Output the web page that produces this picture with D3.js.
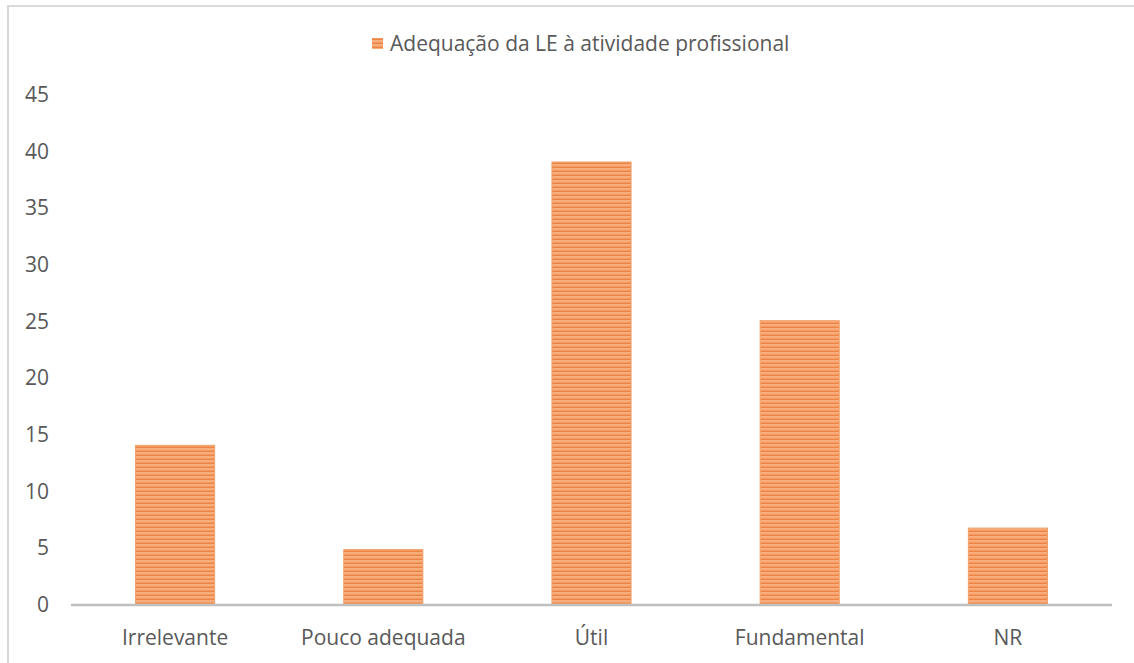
<!DOCTYPE html>
<html>
<head>
<meta charset="utf-8">
<style>
  body { margin: 0; background: #fff; }
  text { font-family: "Open Sans", sans-serif; fill: #595959; }
</style>
</head>
<body>
<svg width="1134" height="663"></svg>
<script src="https://d3js.org/d3.v7.min.js"></script>
<script>

var categories = ["Irrelevante", "Pouco adequada", "Útil", "Fundamental", "NR"];
var values = [14, 4.8, 39, 25, 6.7];
var yTicks = [0, 5, 10, 15, 20, 25, 30, 35, 40, 45];
var seriesName = "Adequação da LE à atividade profissional";

var svg = d3.select("svg");

var margin = {left: 71, right: 1112, top: 94, bottom: 604};

// chart border (runs off the right and bottom edges)
svg.append("rect")
    .attr("x", 8).attr("y", 6)
    .attr("width", 1140).attr("height", 680)
    .attr("fill", "none")
    .attr("stroke", "#d9d9d9")
    .attr("stroke-width", 2);

// striped fill like the original
var defs = svg.append("defs");
var pat = defs.append("pattern")
    .attr("id", "stripes")
    .attr("patternUnits", "userSpaceOnUse")
    .attr("width", 8).attr("height", 4);
pat.append("rect").attr("width", 8).attr("height", 4).attr("fill", "#f7ae7c");
pat.append("rect").attr("y", 2.5).attr("width", 8).attr("height", 1.5).attr("fill", "#ed8344");

var x = d3.scaleBand()
    .domain(categories)
    .range([margin.left, margin.right])
    .paddingInner(0.62)
    .paddingOuter(0.31);

var y = d3.scaleLinear()
    .domain([0, 45])
    .range([margin.bottom, margin.top]);

// y tick labels
svg.append("g")
  .selectAll("text")
  .data(yTicks)
  .enter().append("text")
    .attr("x", 49)
    .attr("y", function(d) { return y(d) + 8; })
    .attr("text-anchor", "end")
    .attr("font-size", 21)
    .text(function(d) { return d; });

// bars
svg.append("g")
  .selectAll("rect")
  .data(values)
  .enter().append("rect")
    .attr("x", function(d, i) { return x(categories[i]); })
    .attr("y", function(d) { return y(d); })
    .attr("width", x.bandwidth())
    .attr("height", function(d) { return y(0) - y(d); })
    .attr("fill", "url(#stripes)")
    .attr("stroke", "#f0a06a")
    .attr("stroke-width", 1);

// baseline
svg.append("line")
    .attr("x1", margin.left).attr("x2", margin.right)
    .attr("y1", y(0) + 1).attr("y2", y(0) + 1)
    .attr("stroke", "#bfbfbf")
    .attr("stroke-width", 2.5);

// category labels
svg.append("g")
  .selectAll("text")
  .data(categories)
  .enter().append("text")
    .attr("x", function(d) { return x(d) + x.bandwidth() / 2; })
    .attr("y", 645)
    .attr("text-anchor", "middle")
    .attr("font-size", 21)
    .text(function(d) { return d; });

// legend
var legend = svg.append("g");
legend.append("rect")
    .attr("x", 372).attr("y", 38)
    .attr("width", 11).attr("height", 11)
    .attr("fill", "url(#stripes)");
legend.append("text")
    .attr("x", 390)
    .attr("y", 51)
    .attr("font-size", 21)
    .text(seriesName);

</script>
</body>
</html>
